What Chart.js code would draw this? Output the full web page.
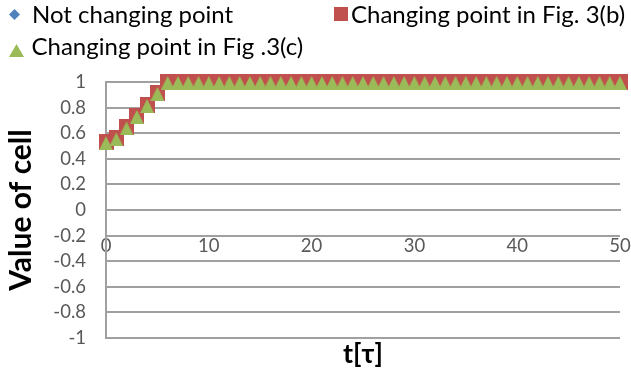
<!DOCTYPE html>
<html><head><meta charset="utf-8">
<script src="https://cdn.jsdelivr.net/npm/chart.js@4.4.1/dist/chart.umd.min.js"></script>
<style>
html,body{margin:0;padding:0;background:#fff;}
#wrap{position:relative;width:631px;height:376px;overflow:hidden;}
#c{position:absolute;left:0;top:0;}
#legend{position:absolute;left:0;top:0;width:631px;height:72px;font-family:Lato,"DejaVu Sans",sans-serif;font-size:24px;color:#000;}
.lt{position:absolute;white-space:nowrap;line-height:1.2;}
.lm{position:absolute;}
</style></head><body>
<div id="wrap"><canvas id="c" width="631" height="376"></canvas><div id="legend"></div></div>
<script>
// ---- data ----
const T = [0,1,2,3,4,5,6,7,8,9,10,11,12,13,14,15,16,17,18,19,20,21,22,23,24,25,26,27,28,29,30,31,32,33,34,35,36,37,38,39,40,41,42,43,44,45,46,47,48,49,50];
const NOT_CHANGING = [0.53,0.56,0.645,0.735,0.82,0.915,1,1,1,1,1,1,1,1,1,1,1,1,1,1,1,1,1,1,1,1,1,1,1,1,1,1,1,1,1,1,1,1,1,1,1,1,1,1,1,1,1,1,1,1,1];
const CHANGING_3B = [0.53,0.56,0.645,0.735,0.82,0.915,1,1,1,1,1,1,1,1,1,1,1,1,1,1,1,1,1,1,1,1,1,1,1,1,1,1,1,1,1,1,1,1,1,1,1,1,1,1,1,1,1,1,1,1,1];
const CHANGING_3C = [0.53,0.56,0.645,0.735,0.82,0.915,1,1,1,1,1,1,1,1,1,1,1,1,1,1,1,1,1,1,1,1,1,1,1,1,1,1,1,1,1,1,1,1,1,1,1,1,1,1,1,1,1,1,1,1,1];
const SERIES_NAMES = ['Not changing point', 'Changing point in Fig. 3(b)', 'Changing point in Fig .3(c)'];
const X_TICKS = [0,10,20,30,40,50];
const Y_TICKS = [-1,-0.8,-0.6,-0.4,-0.2,0,0.2,0.4,0.6,0.8,1];
const X_TITLE = 't[τ]';
const Y_TITLE = 'Value of cell';

// ---- styles ----
const COLORS = ['#4F81BD', '#C0504D', '#9BBB59'];
const GRID = '#a0a0a0';
const TICK_COLOR = '#595959';
const FONT = 'Lato';

// draws a marker glyph into a small canvas; 'top' leaves empty rows above the shape
function makeMarker(kind, color, w, h, top) {
  top = top || 0;
  const c = document.createElement('canvas');
  c.width = w; c.height = h;
  const g = c.getContext('2d');
  g.fillStyle = color;
  g.beginPath();
  if (kind === 'diamond') { g.moveTo(w/2,0); g.lineTo(w,h/2); g.lineTo(w/2,h); g.lineTo(0,h/2); }
  else if (kind === 'square') { g.rect(0,0,w,h); }
  else { g.moveTo(w/2,top); g.lineTo(w,h); g.lineTo(0,h); }
  g.closePath(); g.fill();
  return c;
}
const KINDS = ['diamond','square','triangle'];
const PLOT_SIZES = [[12,12,0],[15,16,0],[14,16,2]];
const LEG_SIZES = [[11,11,0],[14,14,0],[15,13,0]];
// marker centre x, centre y, text left, text baseline
const LEG_POS = [[14,14,32,23.4],[341,14,351,23.4],[16.5,50,31.5,55.5]];

const series = [NOT_CHANGING, CHANGING_3B, CHANGING_3C];
const datasets = series.map((vals, i) => ({
  label: SERIES_NAMES[i],
  data: T.map((t, k) => ({x: t, y: vals[k]})),
  showLine: false,
  clip: false,
  pointStyle: makeMarker(KINDS[i], COLORS[i], PLOT_SIZES[i][0], PLOT_SIZES[i][1], PLOT_SIZES[i][2]),
  pointRadius: 8,
  pointHoverRadius: 8,
  backgroundColor: COLORS[i],
  borderColor: COLORS[i],
  order: 3 - i
}));

const chart = new Chart(document.getElementById('c'), {
  type: 'scatter',
  data: { datasets },
  options: {
    responsive: false,
    animation: false,
    devicePixelRatio: 1,
    layout: { padding: { top: 82, right: 11, bottom: 0, left: 0 } },
    plugins: { legend: { display: false }, tooltip: { enabled: false } },
    scales: {
      x: {
        type: 'linear',
        position: { y: 0 },
        min: 0, max: 50,
        afterBuildTicks: s => { s.ticks = X_TICKS.map(v => ({ value: v })); },
        afterFit: s => { s.paddingLeft = 0; s.paddingRight = 0; },
        grid: { display: false, drawTicks: false },
        border: { display: true, color: GRID, width: 2 },
        ticks: { color: TICK_COLOR, font: { family: FONT, size: 18.5 }, padding: 25, maxRotation: 0, autoSkip: false }
      },
      xt: {
        type: 'linear',
        axis: 'x',
        position: 'bottom',
        min: 0, max: 50,
        ticks: { display: false },
        grid: { display: false, drawTicks: false },
        border: { display: false },
        title: { display: true, text: X_TITLE, color: '#000', font: { family: FONT, size: 27, weight: 'bold' }, padding: { top: 0, bottom: 6 } },
        afterFit: s => { s.height = 38; s.paddingLeft = 0; s.paddingRight = 0; }
      },
      y: {
        type: 'linear',
        position: 'left',
        min: -1, max: 1,
        afterBuildTicks: s => { s.ticks = Y_TICKS.map(v => ({ value: v })); },
        afterFit: s => { s.width = 106; s.paddingTop = 0; s.paddingBottom = 0; },
        grid: { color: GRID, lineWidth: 2, drawTicks: false },
        border: { display: true, color: GRID, width: 2 },
        ticks: { color: TICK_COLOR, font: { family: FONT, size: 18.5 }, padding: 20,
                 callback: v => String(Math.round(v * 10) / 10) },
        title: { display: true, text: Y_TITLE, color: '#000', font: { family: FONT, size: 30, weight: 'bold' }, padding: { top: 3, bottom: 0 } }
      }
    }
  }
});

// HTML legend built from the chart's datasets
const leg = document.getElementById('legend');
chart.data.datasets.forEach((ds, i) => {
  const [cx, cy, tx, by] = LEG_POS[i];
  const m = makeMarker(KINDS[i], COLORS[i], LEG_SIZES[i][0], LEG_SIZES[i][1], LEG_SIZES[i][2]);
  m.className = 'lm';
  m.style.left = (cx - LEG_SIZES[i][0] / 2) + 'px';
  m.style.top = (cy - LEG_SIZES[i][1] / 2) + 'px';
  leg.appendChild(m);
  const t = document.createElement('div');
  t.className = 'lt';
  t.textContent = ds.label;
  t.style.left = tx + 'px';
  t.style.top = (by - 23.7) + 'px';
  leg.appendChild(t);
});
</script>
</body></html>
